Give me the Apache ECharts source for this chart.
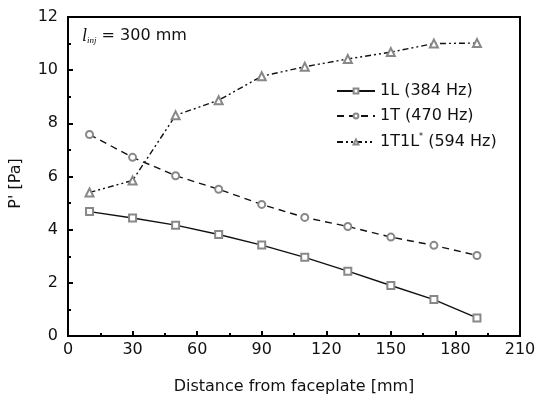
<!DOCTYPE html>
<html>
<head>
<meta charset="utf-8">
<script src="https://cdn.jsdelivr.net/npm/echarts@6/dist/echarts.min.js"></script>
<style>
html, body { margin: 0; padding: 0; background: #fff; }
#chart { width: 540px; height: 400px; }
</style>
</head>
<body>
<div id="chart"></div>
<script>
var distance = [10, 30, 50, 70, 90, 110, 130, 150, 170, 190];
var p1L = [4.68, 4.44, 4.17, 3.82, 3.42, 2.96, 2.44, 1.9, 1.37, 0.68];
var p1T = [7.58, 6.72, 6.03, 5.52, 4.95, 4.46, 4.12, 3.72, 3.41, 3.03];
var p1T1L = [5.4, 5.85, 8.3, 8.87, 9.77, 10.13, 10.42, 10.68, 11.0, 11.02];

function pairs(ys) {
	var out = [];
	for (var i = 0; i < distance.length; i++) {
		out.push([distance[i], ys[i]]);
	}
	return out;
}

var font = '"DejaVu Sans", sans-serif';
var myChart = echarts.init(document.getElementById('chart'));

var option = {
	animation: false,
	textStyle: { fontFamily: font },
	grid: {
		left: 66, right: 20, top: 17, bottom: 64,
		show: true, borderColor: '#000', borderWidth: 2, backgroundColor: 'transparent'
	},
	xAxis: {
		type: 'value',
		min: 0, max: 210, interval: 30,
		name: 'Distance from faceplate [mm]',
		nameLocation: 'middle', nameGap: 43,
		nameTextStyle: { fontSize: 16, color: '#111', fontFamily: font },
		axisLine: { lineStyle: { color: '#000', width: 2 } },
		axisTick: { inside: true, length: 5, lineStyle: { color: '#000', width: 2 } },
		minorTick: { show: true, splitNumber: 2, length: 3, lineStyle: { color: '#000', width: 2 } },
		axisLabel: { fontSize: 16, color: '#111', margin: 6, fontFamily: font },
		splitLine: { show: false }
	},
	yAxis: {
		type: 'value',
		min: 0, max: 12, interval: 2,
		name: "P' [Pa]",
		nameLocation: 'middle', nameGap: 44, nameRotate: 90,
		nameTextStyle: { fontSize: 16, color: '#111', fontFamily: font, padding: [0, 0, 0, -14] },
		axisLine: { show: true, lineStyle: { color: '#000', width: 2 } },
		axisTick: { inside: true, length: 5, lineStyle: { color: '#000', width: 2 } },
		minorTick: { show: true, splitNumber: 2, length: 3, lineStyle: { color: '#000', width: 2 } },
		axisLabel: { fontSize: 16, color: '#111', margin: 10, fontFamily: font },
		splitLine: { show: false }
	},
	legend: {
		orient: 'vertical',
		left: 331, top: 78,
		itemGap: 9, itemWidth: 38, itemHeight: 6,
		textStyle: {
			fontSize: 16, color: '#111', fontFamily: font,
			rich: {
				sup: { fontSize: 8, verticalAlign: 'top', padding: [0, 0, 10, 0], color: '#111' }
			}
		},
		formatter: function(name) {
			if (name == '1T1L* (594 Hz)') return '1T1L{sup|*} (594 Hz)';
			return name;
		},
		data: ['1L (384 Hz)', '1T (470 Hz)', '1T1L* (594 Hz)']
	},
	graphic: [{
		type: 'text',
		left: 82, top: 27,
		style: {
			text: '{l|l}{s|inj} = 300 mm',
			fontSize: 16, fill: '#111', fontFamily: font,
			rich: {
				l: { fontSize: 18, fontStyle: 'italic', fontFamily: '"Liberation Serif", serif' },
				s: { fontSize: 9, fontStyle: 'italic', fontFamily: '"Liberation Serif", serif', verticalAlign: 'bottom', padding: [8, 0, 0, 0] }
			}
		}
	}],
	series: [{
		name: '1L (384 Hz)',
		type: 'line',
		data: pairs(p1L),
		symbol: 'emptyRect', symbolSize: 7,
		lineStyle: { color: '#111', width: 1.4, type: 'solid' },
		itemStyle: { color: '#888', borderColor: '#888', borderWidth: 1.2 }
	}, {
		name: '1T (470 Hz)',
		type: 'line',
		data: pairs(p1T),
		symbol: 'emptyCircle', symbolSize: 7,
		lineStyle: { color: '#111', width: 1.4, type: [7, 5] },
		itemStyle: { color: '#888', borderColor: '#888', borderWidth: 1.2 }
	}, {
		name: '1T1L* (594 Hz)',
		type: 'line',
		data: pairs(p1T1L),
		symbol: 'emptyTriangle', symbolSize: 8,
		lineStyle: { color: '#111', width: 1.4, type: [6, 3, 2, 3, 2, 3] },
		itemStyle: { color: '#888', borderColor: '#888', borderWidth: 1.2 }
	}]
};
myChart.setOption(option);
</script>
</body>
</html>
